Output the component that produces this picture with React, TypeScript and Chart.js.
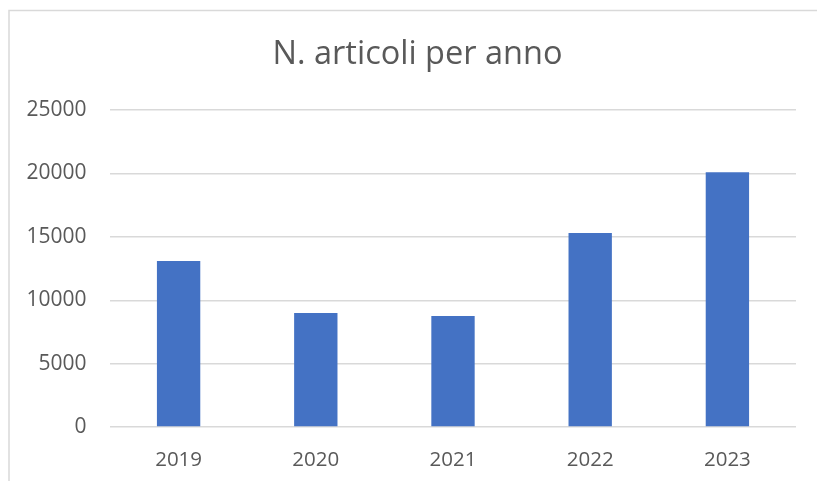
import React, { useEffect, useRef } from "react";
import { Chart, registerables } from "chart.js";

Chart.register(...registerables);

const TITLE = "N. articoli per anno";
const YEARS = ["2019", "2020", "2021", "2022", "2023"];
const ARTICLES = [13100, 9000, 8750, 15300, 20100];
const Y_MIN = 0;
const Y_MAX = 25000;
const Y_STEP = 5000;

const FONT = "'Open Sans', 'Noto Sans', sans-serif";
const TEXT = "#595959";
const GRID = "#d9d9d9";

const framePlugin = {
  id: "frameAndTitle",
  beforeDraw(chart: any) {
    const ctx = chart.ctx;
    ctx.save();
    ctx.fillStyle = "#ffffff";
    ctx.fillRect(0, 0, chart.width, chart.height);
    ctx.strokeStyle = "#d9d9d9";
    ctx.lineWidth = 1.5;
    ctx.strokeRect(9, 10.5, 2000, 2000);
    ctx.fillStyle = TEXT;
    ctx.font = `normal 32.5px ${FONT}`;
    ctx.textAlign = "center";
    ctx.textBaseline = "middle";
    ctx.fillText(TITLE, 417.5, 55);
    ctx.restore();
  },
};

export default function App() {
  const ref = useRef<HTMLCanvasElement | null>(null);
  useEffect(() => {
    if (!ref.current) return;
    const chart = new Chart(ref.current, {
      type: "bar",
      data: {
        labels: YEARS,
        datasets: [
          {
            label: TITLE,
            data: ARTICLES,
            backgroundColor: "#4472C4",
            borderWidth: 0,
            barPercentage: 0.316,
            categoryPercentage: 1,
          },
        ],
      },
      options: {
        responsive: false,
        animation: false,
        devicePixelRatio: 1,
        layout: { padding: { left: 0, right: 21, top: 110, bottom: 0 } },
        plugins: {
          legend: { display: false },
          tooltip: { enabled: false },
          title: { display: false },
        },
        scales: {
          x: {
            grid: { display: false, drawTicks: false },
            border: { display: false },
            ticks: {
              color: TEXT,
              font: { family: FONT, size: 20.5 },
              padding: 21,
            },
            afterFit(scale: any) {
              scale.height = 54;
            },
          },
          y: {
            min: Y_MIN,
            max: Y_MAX,
            grid: { color: GRID, lineWidth: 1.4, drawTicks: false },
            border: { display: false },
            ticks: {
              stepSize: Y_STEP,
              color: TEXT,
              font: { family: FONT, size: 21 },
              padding: 23.5,
              callback: (v: any) => String(v),
            },
            afterFit(scale: any) {
              scale.width = 110;
            },
          },
        },
      },
      plugins: [framePlugin],
    } as any);
    return () => chart.destroy();
  }, []);
  return (
    <div style={{ position: "fixed", left: 0, top: 0, width: 817, height: 481, overflow: "hidden", background: "#fff" }}>
      <canvas ref={ref} width={817} height={481} style={{ display: "block" }} />
    </div>
  );
}
